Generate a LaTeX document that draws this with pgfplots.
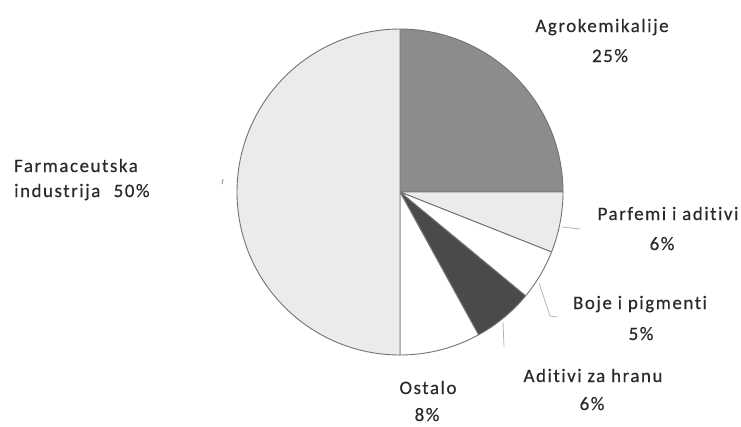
\documentclass[border=0pt]{standalone}
\usepackage{pgfplots}
\usepackage{pgfplotstable}
\usepackage{fontspec}
\setmainfont[LetterSpace=8, Ligatures={NoCommon}, FakeBold=0.4]{Carlito}
\pgfplotsset{compat=1.18}

\definecolor{agro}{HTML}{8C8C8C}
\definecolor{lite}{HTML}{EBEBEB}
\definecolor{dark}{HTML}{4A4A4A}
\definecolor{edge}{HTML}{737373}
\definecolor{txt}{HTML}{2A2A2A}
\definecolor{lead}{HTML}{B4B4B4}

% slices clockwise from 12 o'clock
\pgfplotstableread{
pct fill
25 agro
6 lite
5 white
6 dark
8 white
50 lite
}\slices

\begin{document}
\begin{tikzpicture}
\begin{axis}[
    width=741pt, height=426pt, scale only axis,
    xmin=0, xmax=741, ymin=0, ymax=426,
    y dir=reverse, hide axis, clip=false,
]
\pgfplotstablegetrowsof{\slices}
\pgfmathtruncatemacro\nrows{\pgfplotsretval-1}
\def\startang{90}
\foreach \i in {0,...,\nrows}{
    \pgfplotstablegetelem{\i}{pct}\of{\slices}\let\v\pgfplotsretval
    \pgfplotstablegetelem{\i}{fill}\of{\slices}\let\c\pgfplotsretval
    \pgfmathsetmacro\endang{\startang-3.6*\v}
    \edef\temp{\noexpand\filldraw[fill=\c, draw=edge, line width=0.9pt, line join=round]
        (axis cs:400,192) -- ++(\startang:163pt)
        arc[start angle=\startang, end angle=\endang, radius=163pt] -- cycle;}
    \temp
    \global\let\startang\endang
}

% leader lines
\addplot[lead, line width=0.8pt] coordinates {(562,227) (580,229)};
\addplot[lead, line width=0.8pt] coordinates {(539,283) (550,316) (557,317)};
\addplot[lead, line width=0.8pt] coordinates {(503,322) (504,347)};
\addplot[edge!70, line width=1pt] coordinates {(223,179) (222,184)};

\begin{scope}[every node/.style={font=\fontsize{19}{22}\selectfont, text=txt, inner sep=0pt, anchor=base}]
\node at (axis cs:602,32) {Agrokemikalije};
\node at (axis cs:610,62) {25\%};
\node[anchor=base west] at (axis cs:14,172) {Farmaceutska};
\node[anchor=base west] at (axis cs:14,197) {industrija\hspace{0.7em}50\%};
\node at (axis cs:668,220) {Parfemi i aditivi};
\node at (axis cs:662,250) {6\%};
\node at (axis cs:640,309) {Boje i pigmenti};
\node at (axis cs:641,340) {5\%};
\node at (axis cs:593,382) {Aditivi za hranu};
\node at (axis cs:592,410) {6\%};
\node at (axis cs:428,394) {Ostalo};
\node at (axis cs:427,421) {8\%};
\end{scope}
\end{axis}
\pgfresetboundingbox
\useasboundingbox (0,0) rectangle (741pt,426pt);
\end{tikzpicture}
\end{document}
